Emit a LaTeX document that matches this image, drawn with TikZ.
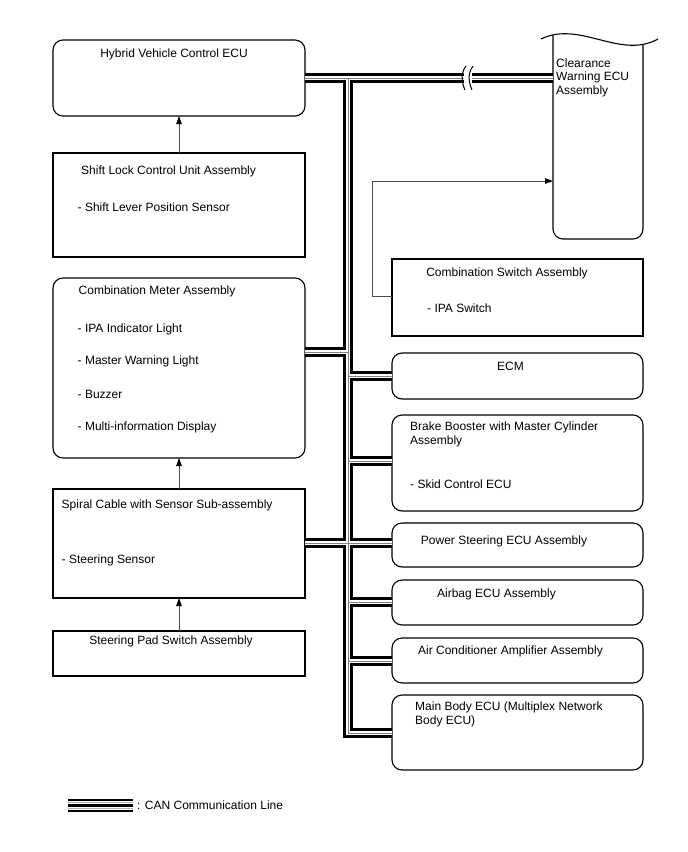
\documentclass[tikz,border=0pt]{standalone}
\usepackage{fontspec}
\setmainfont{Liberation Sans}
\usetikzlibrary{arrows.meta}
\begin{document}
\begin{tikzpicture}[x=1pt,y=-1pt,
  box/.style={draw, line width=1.1pt, inner sep=0pt, outer sep=0pt},
  rbox/.style={box, rounded corners=10pt},
  lbl/.style={inner sep=0pt, font=\fontsize{12}{14}\selectfont, anchor=base west},
  clbl/.style={lbl, anchor=base},
  arr/.style={draw=gray!60!black, line width=0.9pt, -{Triangle[length=8pt,width=5.5pt,color=black]}},
  brk/.style={line width=1pt}
]
\newcommand\mybox[6]{\node[#1, minimum width={#4-#2}, minimum height={#5-#3}] (#6) at ({(#2+#4)/2},{(#3+#5)/2}) {};}
\fill[white] (0,0) rectangle (688,852);
\useasboundingbox (0,0) rectangle (688,852);

% left column
\mybox{rbox}{53}{40}{305}{116}{hv}
\mybox{box}{53}{153}{305}{257}{sl}
\mybox{rbox}{53}{278}{305}{458}{cm}
\mybox{box}{53}{489}{305}{598}{sp}
\mybox{box}{53}{631}{305}{676}{spd}
% right column
\node[inner sep=0pt, outer sep=0pt, minimum width=90, minimum height=203] (cw) at (598,137.5) {};
\draw[line width=1.1pt, rounded corners=10pt] (553,35) -- (553,239) -- (643,239) -- (643,44.4);
\draw[line width=1.1pt] (541,39) .. controls (580,20) and (620,60) .. (658,39);
\mybox{box}{392}{259}{643}{336}{csw}
\mybox{rbox}{392}{353}{643}{399}{ecm}
\mybox{rbox}{392}{415}{643}{511}{bb}
\mybox{rbox}{392}{523}{643}{567}{ps}
\mybox{rbox}{392}{580}{643}{625}{ab}
\mybox{rbox}{392}{638}{643}{683}{ac}
\mybox{rbox}{392}{695}{643}{770}{mb}

% labels
\node[clbl] (hvt) at (174,57.5) {Hybrid Vehicle Control ECU};
\node[lbl] (slt1) at (81,174) {Shift Lock Control Unit Assembly};
\node[lbl] (slt2) at (77.5,211.5) {- Shift Lever Position Sensor};
\node[lbl] (cmt1) at (78.5,294.5) {Combination Meter Assembly};
\node[lbl] (cmt2) at (77.5,332) {- IPA Indicator Light};
\node[lbl] (cmt3) at (77.5,364) {- Master Warning Light};
\node[lbl] (cmt4) at (77.5,398) {- Buzzer};
\node[lbl] (cmt5) at (77.5,430) {- Multi-information Display};
\node[lbl] (spt1) at (61.5,508) {Spiral Cable with Sensor Sub-assembly};
\node[lbl] (spt2) at (61.5,563) {- Steering Sensor};
\node[clbl] (spdt) at (171,644.5) {Steering Pad Switch Assembly};
\node[lbl] (cwt1) at (556,67) {Clearance};
\node[lbl] (cwt2) at (556,80.5) {Warning ECU};
\node[lbl] (cwt3) at (556,94) {Assembly};
\node[clbl] (cswt1) at (507,276) {Combination Switch Assembly};
\node[lbl] (cswt2) at (427,312) {- IPA Switch};
\node[clbl] (ecmt) at (510.5,370) {ECM};
\node[lbl] (bbt1) at (410,430.5) {Brake Booster with Master Cylinder};
\node[lbl] (bbt2) at (410,444) {Assembly};
\node[lbl] (bbt3) at (410,488) {- Skid Control ECU};
\node[clbl] (pst) at (504,544) {Power Steering ECU Assembly};
\node[clbl] (abt) at (496.5,597) {Airbag ECU Assembly};
\node[clbl] (act) at (510.5,654) {Air Conditioner Amplifier Assembly};
\node[lbl] (mbt1) at (415,710) {Main Body ECU (Multiplex Network};
\node[lbl] (mbt2) at (415,724) {Body ECU)};

% arrows
\draw[arr] (sl.north) -- (hv.south);
\draw[arr] (sp.north) -- (cm.south);
\draw[arr] (spd.north) -- (sp.south);
\coordinate (ja) at (372,181);
\draw[arr] ([yshift=1pt]csw.west) -| (ja) -- (ja -| cw.west);

% CAN bus
\coordinate (tj) at (348,78);
\coordinate (bj) at (348,733);
\coordinate (k1) at (348,352);
\coordinate (k2) at (348,543);
\coordinate (k3) at (348,461);
\coordinate (k4) at (348,602);
\coordinate (k5) at (348,661);
\foreach \w/\c in {9.6/black,4.6/white,1/gray} {
  \draw[line width=\w pt, draw=\c, line join=miter]
    (hv.east) -- (hv.east -| cw.west)
    (tj) -- (bj) -- (bj -| mb.west)
    (k1) -- (k1 -| cm.east)
    (k2 -| sp.east) -- (k2 -| ps.west)
    (ecm.west -| tj) -- (ecm.west)
    (k3) -- (k3 -| bb.west)
    (k4) -- (k4 -| ab.west)
    (k5) -- (k5 -| ac.west);
}
% break mark
\fill[white] (463.5,72) rectangle (471.5,85);
\draw[brk] (466,66) .. controls (460,74) and (462,83) .. (465,90);
\draw[brk] (473,66) .. controls (467,74) and (469,83) .. (472,90);

% legend
\coordinate (lg1) at (68,805.5);
\coordinate (lg2) at (133,805.5);
\draw[line width=2.2pt] ([yshift=5.5pt]lg1) -- ([yshift=5.5pt]lg2);
\draw[line width=2.2pt] (lg1) -- (lg2);
\draw[line width=2.2pt] ([yshift=-5.5pt]lg1) -- ([yshift=-5.5pt]lg2);
\draw[line width=0.6pt, gray!60] ([yshift=2.75pt]lg1) -- ([yshift=2.75pt]lg2);
\draw[line width=0.6pt, gray!60] ([yshift=-2.75pt]lg1) -- ([yshift=-2.75pt]lg2);
\node[lbl] (lgt) at (137,809) {: CAN Communication Line};
\end{tikzpicture}
\end{document}
